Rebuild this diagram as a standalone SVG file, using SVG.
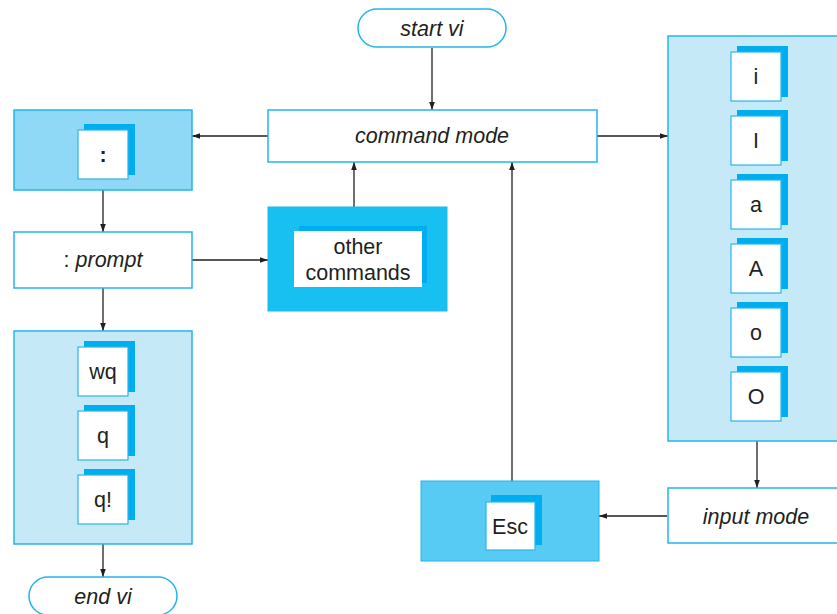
<svg xmlns="http://www.w3.org/2000/svg" width="837" height="614" viewBox="0 0 837 614">
  <style>
    text { font-family: "Liberation Sans", Arial, sans-serif; font-size: 21.5px; fill: #231f20; text-anchor: middle; }
    .it { font-style: italic; }
    .box { fill: #ffffff; stroke: #22b6ee; stroke-width: 1.5; }
    .panel { fill: #c6e9f8; stroke: #22b6ee; stroke-width: 1.5; }
    .shadow { fill: #00aeef; }
    .key { fill: #ffffff; stroke: #2cb5e8; stroke-width: 1.2; }
    .edge { stroke: #231f20; stroke-width: 1.3; fill: none; marker-end: url(#arrow); }
  </style>
  <defs>
    <marker id="arrow" viewBox="0 0 10 10" refX="10" refY="5" markerWidth="10" markerHeight="8" markerUnits="userSpaceOnUse" orient="auto">
      <path d="M0,1.5 L10,5 L0,8.5 Z" fill="#231f20"/>
    </marker>
    <!-- a key cap: shadow offset up-right, white face -->
    <g id="keycap">
      <rect class="shadow" x="6" y="-6" width="51" height="51"/>
      <rect class="key" x="0" y="0" width="50" height="49"/>
    </g>
  </defs>

  <g id="connectors">
    <line class="edge" x1="432" y1="48" x2="432" y2="110"/>
    <line class="edge" x1="268" y1="136" x2="192" y2="136"/>
    <line class="edge" x1="597" y1="136" x2="668" y2="136"/>
    <line class="edge" x1="103" y1="190" x2="103" y2="232"/>
    <line class="edge" x1="192" y1="260" x2="268" y2="260"/>
    <line class="edge" x1="354" y1="207" x2="354" y2="162"/>
    <line class="edge" x1="103" y1="288" x2="103" y2="331"/>
    <line class="edge" x1="103" y1="544" x2="103" y2="577"/>
    <line class="edge" x1="757" y1="441" x2="757" y2="488"/>
    <line class="edge" x1="667" y1="516" x2="599" y2="516"/>
    <line class="edge" x1="512" y1="481" x2="512" y2="162"/>
  </g>

  <g id="start-vi">
    <rect class="box" x="358" y="9" width="148" height="38" rx="19"/>
    <text class="it" x="432" y="36">start vi</text>
  </g>

  <g id="command-mode">
    <rect class="box" x="268" y="110" width="329" height="52"/>
    <text class="it" x="432" y="143">command mode</text>
  </g>

  <g id="colon-key">
    <rect x="14" y="110" width="178" height="80" fill="#8fd8f6" stroke="#22b6ee" stroke-width="1.5"/>
    <use href="#keycap" x="78" y="130"/>
    <text x="103" y="162" style="font-weight:bold">:</text>
  </g>

  <g id="prompt">
    <rect class="box" x="14" y="232" width="178" height="56"/>
    <text x="103" y="267"><tspan>: </tspan><tspan class="it">prompt</tspan></text>
  </g>

  <g id="other-commands">
    <rect x="268" y="207" width="179" height="104" fill="#17c0f1" stroke="#22b6ee" stroke-width="1"/>
    <rect class="shadow" x="299" y="226" width="128" height="57"/>
    <rect x="294" y="231" width="128" height="56" fill="#ffffff"/>
    <text x="358" y="254">other</text>
    <text x="358" y="280">commands</text>
  </g>

  <g id="quit-keys">
    <rect class="panel" x="14" y="331" width="178" height="213"/>
    <use href="#keycap" x="78" y="347"/>
    <text x="103" y="379">wq</text>
    <use href="#keycap" x="78" y="411"/>
    <text x="103" y="443">q</text>
    <use href="#keycap" x="78" y="475"/>
    <text x="103" y="507">q!</text>
  </g>

  <g id="end-vi">
    <rect class="box" x="29" y="577" width="148" height="38" rx="19"/>
    <text class="it" x="103" y="604">end vi</text>
  </g>

  <g id="insert-keys">
    <rect class="panel" x="668" y="36" width="180" height="405"/>
    <use href="#keycap" x="731" y="52"/>
    <text x="756" y="84">i</text>
    <use href="#keycap" x="731" y="116"/>
    <text x="756" y="148">I</text>
    <use href="#keycap" x="731" y="180"/>
    <text x="756" y="212">a</text>
    <use href="#keycap" x="731" y="244"/>
    <text x="756" y="276">A</text>
    <use href="#keycap" x="731" y="308"/>
    <text x="756" y="340">o</text>
    <use href="#keycap" x="731" y="372"/>
    <text x="756" y="404">O</text>
  </g>

  <g id="input-mode">
    <rect class="box" x="668" y="488" width="180" height="55"/>
    <text class="it" x="756" y="524">input mode</text>
  </g>

  <g id="esc-key">
    <rect x="421" y="481" width="178" height="80" fill="#58cbf4" stroke="#22b6ee" stroke-width="1"/>
    <rect class="shadow" x="491" y="495" width="51" height="50"/>
    <rect class="key" x="486" y="502" width="49" height="48"/>
    <text x="510" y="534">Esc</text>
  </g>
</svg>
